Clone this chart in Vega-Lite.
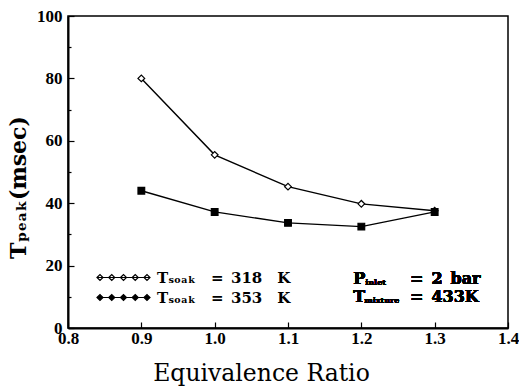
{
  "$schema": "https://vega.github.io/schema/vega-lite/v6.json",
  "width": 440,
  "height": 312,
  "autosize": "none",
  "padding": {"left": 68, "top": 16, "right": 11, "bottom": 61},
  "background": "white",
  "config": {
    "view": {"stroke": "black", "strokeWidth": 1.5},
    "font": "Liberation Serif"
  },
  "data": {
    "values": [
      {"phi": 0.9, "tpeak": 80.0, "series": "318 K"},
      {"phi": 1.0, "tpeak": 55.5, "series": "318 K"},
      {"phi": 1.1, "tpeak": 45.3, "series": "318 K"},
      {"phi": 1.2, "tpeak": 39.8, "series": "318 K"},
      {"phi": 1.3, "tpeak": 37.6, "series": "318 K"},
      {"phi": 0.9, "tpeak": 44.0, "series": "353 K"},
      {"phi": 1.0, "tpeak": 37.2, "series": "353 K"},
      {"phi": 1.1, "tpeak": 33.7, "series": "353 K"},
      {"phi": 1.2, "tpeak": 32.5, "series": "353 K"},
      {"phi": 1.3, "tpeak": 37.2, "series": "353 K"}
    ]
  },
  "encoding": {
    "x": {
      "field": "phi",
      "type": "quantitative",
      "scale": {"domain": [0.8, 1.4], "nice": false, "zero": false},
      "axis": {
        "title": "Equivalence Ratio",
        "titleFont": "DejaVu Serif",
        "titleFontWeight": "normal",
        "titleFontSize": 23.5,
        "titleColor": "black",
        "titleX": 193,
        "titleY": 52,
        "titleAlign": "center",
        "titleBaseline": "alphabetic",
        "values": [0.8, 0.9, 1.0, 1.1, 1.2, 1.3, 1.4],
        "format": ".1f",
        "labelFont": "Liberation Serif",
        "labelFontWeight": "bold",
        "labelFontSize": 17,
        "labelColor": "black",
        "labelPadding": 8,
        "labelFlush": false,
        "tickSize": -6,
        "tickColor": "black",
        "tickWidth": 1.2,
        "domainColor": "black",
        "domainWidth": 2,
        "grid": false
      }
    },
    "y": {
      "field": "tpeak",
      "type": "quantitative",
      "scale": {"domain": [0, 100], "nice": false},
      "axis": {
        "title": "Tₚₑₐₖ(msec)",
        "titleFont": "DejaVu Serif",
        "titleFontWeight": "bold",
        "titleFontSize": 22,
        "titleColor": "black",
        "titleAngle": 270,
        "titleX": -50,
        "titleY": 171,
        "titleAlign": "center",
        "titleBaseline": "middle",
        "values": [0, 10, 20, 30, 40, 50, 60, 70, 80, 90, 100],
        "labelExpr": "datum.value % 20 === 0 ? datum.label : ''",
        "labelFont": "Liberation Serif",
        "labelFontWeight": "bold",
        "labelFontSize": 17,
        "labelColor": "black",
        "labelPadding": 12,
        "labelFlush": false,
        "tickSize": {"condition": {"test": "datum.value % 20 === 0", "value": -6}, "value": -3},
        "tickColor": "black",
        "tickWidth": 1.2,
        "domainColor": "black",
        "domainWidth": 2,
        "grid": false
      }
    }
  },
  "layer": [
    {
      "mark": {"type": "line", "color": "black", "strokeWidth": 1.4},
      "encoding": {"detail": {"field": "series"}}
    },
    {
      "transform": [{"filter": "datum.series === '318 K'"}],
      "mark": {"type": "point", "shape": "diamond", "filled": true, "stroke": "black", "strokeWidth": 1.2, "size": 45, "opacity": 1},
      "encoding": {
        "fill": {
          "field": "series",
          "type": "nominal",
          "scale": {"domain": ["318 K", "353 K"], "range": ["white", "black"]},
          "legend": {
            "title": null,
            "orient": "none",
            "legendX": 48,
            "legendY": 254,
            "labelExpr": "'Tₛₒₐₖ\u2002\u2002=\u2002' + replace(datum.label, ' ', '\u2002\u2002')",
            "labelFont": "DejaVu Serif",
            "labelFontWeight": "bold",
            "labelFontSize": 15,
            "labelColor": "black",
            "labelOffset": 26,
            "rowPadding": 4,
            "symbolSize": 100,
            "symbolStrokeColor": "black",
            "symbolStrokeWidth": 1.2,
            "symbolType": "M-5.3,0H5.3M-5.3,0L-4.7,-0.6L-4.1,0L-4.7,0.6ZM-2.95,0L-2.35,-0.6L-1.75,0L-2.35,0.6ZM-0.6,0L0,-0.6L0.6,0L0,0.6ZM1.75,0L2.35,-0.6L2.95,0L2.35,0.6ZM4.1,0L4.7,-0.6L5.3,0L4.7,0.6Z"
          }
        }
      }
    },
    {
      "transform": [{"filter": "datum.series === '353 K'"}],
      "mark": {"type": "point", "shape": "square", "filled": true, "stroke": "black", "strokeWidth": 1.2, "size": 45, "opacity": 1},
      "encoding": {
        "fill": {"field": "series", "type": "nominal"}
      }
    },
    {
      "mark": {"type": "text", "align": "left", "baseline": "middle", "font": "DejaVu Serif", "fontWeight": "bold", "fontSize": 16, "color": "black"},
      "encoding": {"x": {"datum": 1.189}, "y": {"datum": 15.7}, "text": {"value": "P"}}
    },
    {
      "mark": {"type": "text", "align": "left", "baseline": "middle", "font": "DejaVu Serif", "fontWeight": "bold", "fontSize": 8, "color": "black", "dx": 12, "dy": 4},
      "encoding": {"x": {"datum": 1.189}, "y": {"datum": 15.7}, "text": {"value": "inlet"}}
    },
    {
      "mark": {"type": "text", "align": "left", "baseline": "middle", "font": "DejaVu Serif", "fontWeight": "bold", "fontSize": 16, "color": "black"},
      "encoding": {"x": {"datum": 1.2664}, "y": {"datum": 15.7}, "text": {"value": "=\u20022\u2002bar"}}
    },
    {
      "mark": {"type": "text", "align": "left", "baseline": "middle", "font": "DejaVu Serif", "fontWeight": "bold", "fontSize": 16, "color": "black"},
      "encoding": {"x": {"datum": 1.189}, "y": {"datum": 10.0}, "text": {"value": "T"}}
    },
    {
      "mark": {"type": "text", "align": "left", "baseline": "middle", "font": "DejaVu Serif", "fontWeight": "bold", "fontSize": 8, "color": "black", "dx": 11, "dy": 4},
      "encoding": {"x": {"datum": 1.189}, "y": {"datum": 10.0}, "text": {"value": "mixture"}}
    },
    {
      "mark": {"type": "text", "align": "left", "baseline": "middle", "font": "DejaVu Serif", "fontWeight": "bold", "fontSize": 16, "color": "black"},
      "encoding": {"x": {"datum": 1.2664}, "y": {"datum": 10.0}, "text": {"value": "=\u2002433K"}}
    }
  ]
}
